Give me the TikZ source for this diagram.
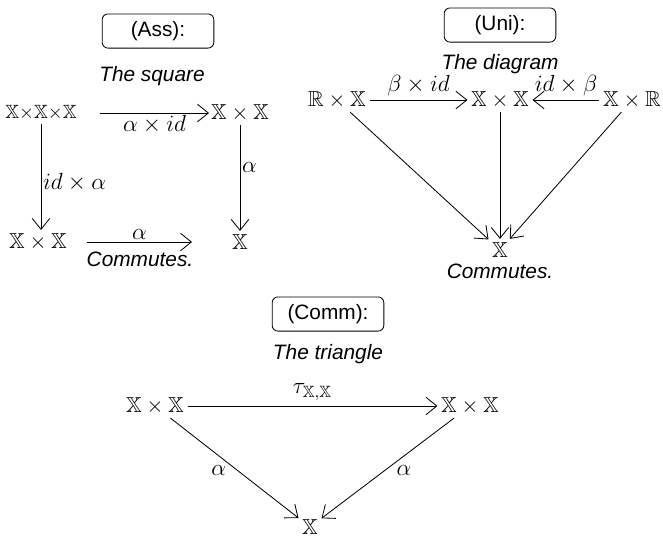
\RequirePackage{fix-cm}
\documentclass[tikz,border=0pt]{standalone}
\usepackage{amssymb}
\usepackage{fontspec}
\setsansfont{Liberation Sans}
\usetikzlibrary{arrows.meta}
\newcommand{\XX}{\mathbb{X}}
\newcommand{\RR}{\mathbb{R}}
\begin{document}
\begin{tikzpicture}[x=0.6pt,y=-0.6pt,
  every node/.style={inner sep=1pt},
  obj/.style={inner sep=2pt, font=\fontsize{13}{15}\selectfont},
  tag/.style={draw, rounded corners=3.5pt, line width=0.5pt, font=\sffamily\fontsize{12.5}{15}\selectfont,
    minimum height=20.5pt, minimum width=67pt},
  caption/.style={font=\sffamily\itshape\fontsize{12.5}{15}\selectfont},
  map/.style={line width=0.5pt, -{Straight Barb[length=6.5pt,width=10.5pt,line width=0.5pt]}},
  lbl/.style={font=\fontsize{14}{16}\selectfont}]
\useasboundingbox (0,0) rectangle (663,543);

% associativity square
\node[tag] (ass) at (158,31) {(Ass):};
\node[caption] (sq) at (152,76) {The square};
\node[obj, font=\fontsize{11.5}{14}\selectfont] (a1) at (41,113) {$\XX{\times}\XX{\times}\XX$};
\node[obj] (a2) at (240,113) {$\XX\times\XX$};
\node[obj] (a3) at (38,242) {$\XX\times\XX$};
\node[obj] (a4) at (240,242) {$\XX$};
\coordinate (t1) at (100,113); \coordinate (t2) at (209,113);
\draw[map] (t1) -- node[below, lbl] {$\alpha\times id$} (t2);
\draw[map] (a1) -- node[right, lbl, pos=0.55] {$id\times\alpha$} (a1 |- a3.north);
\draw[map] (a2.south -| a4) -- node[right, lbl, pos=0.4] {$\alpha$} (a4);
\coordinate (b1) at (87,242); \coordinate (b2) at (192,242);
\draw[map] (b1) -- node[above, lbl] {$\alpha$} (b2);
\node[caption] (c1) at (140,259) {Commutes.};

% unit diagram
\node[tag] (uni) at (500,25) {(Uni):};
\node[caption] (dg) at (500,64) {The diagram};
\node[obj] (u1) at (337,100) {$\RR\times\XX$};
\node[obj] (u2) at (500,100) {$\XX\times\XX$};
\node[obj] (u3) at (632,100) {$\XX\times\RR$};
\node[obj] (u4) at (500,250) {$\XX$};
\draw[map] (u1) -- node[above, lbl, yshift=1pt] {$\beta\times id$} (u2);
\draw[map] (u3) -- node[above, lbl, yshift=1pt] {$id\times\beta$} (u2);
\draw[map] (u1) -- (u4);
\draw[map] (u2) -- (u4);
\draw[map] (u3) -- (u4);
\node[caption] (c2) at (500,271) {Commutes.};

% commutativity triangle
\node[tag] (comm) at (328,314) {(Comm):};
\node[caption] (tr) at (328,354) {The triangle};
\node[obj] (k1) at (155,406) {$\XX\times\XX$};
\node[obj] (k2) at (470,406) {$\XX\times\XX$};
\node[obj] (k3) at (310,527) {$\XX$};
\draw[map] (k1) -- node[above, lbl, yshift=2pt] {$\tau_{\XX,\XX}$} (k2);
\draw[map] (k1) -- node[below left, lbl, pos=0.45] {$\alpha$} (k3);
\draw[map] (k2) -- node[below right, lbl, pos=0.45] {$\alpha$} (k3);
\end{tikzpicture}
\end{document}
